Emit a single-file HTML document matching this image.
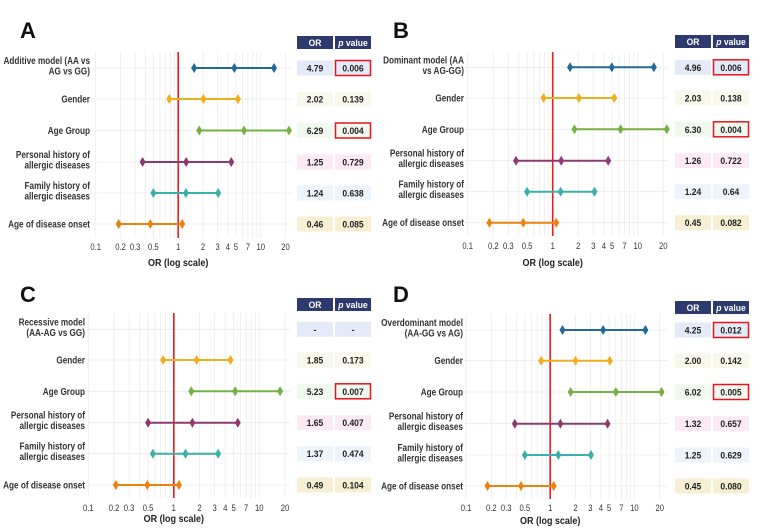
<!DOCTYPE html>
<html><head><meta charset="utf-8"><style>
html,body{margin:0;padding:0;background:#fff;}
svg{display:block;font-family:"Liberation Sans",sans-serif;}
</style></head><body>
<svg id="fig" width="757" height="531" viewBox="0 0 757 531" xmlns="http://www.w3.org/2000/svg"></svg>
<script>
// ---- data ----
const labelsA = [["Additive model (AA vs","AG vs GG)"],["Gender"],["Age Group"],["Personal history of","allergic diseases"],["Family history of","allergic diseases"],["Age of disease onset"]];
const labelsB = [["Dominant model (AA","vs AG-GG)"],["Gender"],["Age Group"],["Personal history of","allergic diseases"],["Family history of","allergic diseases"],["Age of disease onset"]];
const labelsC = [["Recessive model","(AA-AG vs GG)"],["Gender"],["Age Group"],["Personal history of","allergic diseases"],["Family history of","allergic diseases"],["Age of disease onset"]];
const labelsD = [["Overdominant model","(AA-GG vs AG)"],["Gender"],["Age Group"],["Personal history of","allergic diseases"],["Family history of","allergic diseases"],["Age of disease onset"]];

const orA = [4.79, 2.02, 6.29, 1.25, 1.24, 0.46];
const loA = [1.56, 0.78, 1.8, 0.37, 0.5, 0.19];
const hiA = [14.5, 5.3, 22, 4.4, 3.05, 1.12];
const orTextA = ["4.79","2.02","6.29","1.25","1.24","0.46"];
const pTextA = ["0.006","0.139","0.004","0.729","0.638","0.085"];
const sigA = [true,false,true,false,false,false];

const orB = [4.96, 2.03, 6.30, 1.26, 1.24, 0.45];
const loB = [1.6, 0.78, 1.8, 0.37, 0.5, 0.18];
const hiB = [15.5, 5.3, 22, 4.5, 3.1, 1.1];
const orTextB = ["4.96","2.03","6.30","1.26","1.24","0.45"];
const pTextB = ["0.006","0.138","0.004","0.722","0.64","0.082"];
const sigB = [true,false,true,false,false,false];

const orC = [null, 1.85, 5.23, 1.65, 1.37, 0.49];
const loC = [null, 0.75, 1.6, 0.5, 0.57, 0.21];
const hiC = [null, 4.6, 17.5, 5.6, 3.3, 1.15];
const orTextC = ["-","1.85","5.23","1.65","1.37","0.49"];
const pTextC = ["-","0.173","0.007","0.407","0.474","0.104"];
const sigC = [false,false,true,false,false,false];

const orD = [4.25, 2.00, 6.02, 1.32, 1.25, 0.45];
const loD = [1.4, 0.78, 1.75, 0.38, 0.5, 0.18];
const hiD = [13.5, 5.1, 21, 4.8, 3.05, 1.1];
const orTextD = ["4.25","2.00","6.02","1.32","1.25","0.45"];
const pTextD = ["0.012","0.142","0.005","0.657","0.629","0.080"];
const sigD = [true,false,true,false,false,false];

const tickValues = [0.1,0.2,0.3,0.5,1,2,3,4,5,7,10,20];
const tickLabels = ["0.1","0.2","0.3","0.5","1","2","3","4","5","7","10","20"];
const minorGrid = [0.1,0.2,0.3,0.4,0.5,0.6,0.7,0.8,0.9,1,2,3,4,5,6,7,8,9,10,20];

const colors = ["#23699a","#f0ae1c","#74b143","#8e3a72","#3ab0ab","#ea820e"];
const cellBg = ["#e5eaf8","#f8f9ec","#f1f8ee","#fbe9f4","#eef4fb","#f6efd4"];

const NS = "http://www.w3.org/2000/svg";
const svg = document.getElementById("fig");
function mk(tag, attrs, parent){
  const e = document.createElementNS(NS, tag);
  for (const k in attrs) e.setAttribute(k, attrs[k]);
  (parent||svg).appendChild(e);
  return e;
}

const panels = [
  {id:"a", letter:"A", lx:20, ly:38, x0:95.7, dec:82.5, plotL:90, plotR:292, rows:[68,99,130.5,162,193,224], top:52, bottom:238, tickY:250, titleY:266, labX:90, orX:297, pX:335, hdrY:36, labels:labelsA, or:orA, lo:loA, hi:hiA, orT:orTextA, pT:pTextA, sig:sigA},
  {id:"b", letter:"B", lx:393, ly:38, x0:467.7, dec:85, plotL:465, plotR:668, rows:[67.3,98,129.3,160.7,191.7,222.7], top:52, bottom:236, tickY:249, titleY:266, labX:464, orX:675, pX:713, hdrY:35, labels:labelsB, or:orB, lo:loB, hi:hiB, orT:orTextB, pT:pTextB, sig:sigB},
  {id:"c", letter:"C", lx:20, ly:302, x0:88.3, dec:85.5, plotL:86, plotR:290, rows:[329.3,360,391.3,422.7,453.7,485], top:313, bottom:498, tickY:511, titleY:522, labX:85, orX:297, pX:335, hdrY:298, labels:labelsC, or:orC, lo:loC, hi:hiC, orT:orTextC, pT:pTextC, sig:sigC},
  {id:"d", letter:"D", lx:393, ly:302, x0:466, dec:84.2, plotL:464, plotR:668, rows:[330,360.7,392,423.7,455,486], top:314, bottom:499, tickY:511, titleY:524, labX:463, orX:675, pX:713, hdrY:301, labels:labelsD, or:orD, lo:loD, hi:hiD, orT:orTextD, pT:pTextD, sig:sigD}
];

panels.forEach(p => {
  const g = mk("g", {});
  
  
  const xs = v => p.x0 + Math.log10(v / 0.1) * p.dec;

  const letter = mk("text", {x:p.lx, y:p.ly, "font-size":22, "font-weight":"bold", fill:"#111"}, g);
  letter.textContent = p.letter;
  
  

  minorGrid.forEach(v => {
    const l = mk("line", {x1:xs(v), x2:xs(v), y1:p.top, y2:p.bottom, stroke:"#ececec", "stroke-width":0.8}, g);
    
    
  });
  p.rows.forEach(y => {
    const l = mk("line", {x1:p.plotL, x2:p.plotR, y1:y, y2:y, stroke:"#ececec", "stroke-width":0.8}, g);
    
    
  });

  const ref = mk("line", {x1:xs(1), x2:xs(1), y1:p.top, y2:p.bottom, stroke:"#f01818", "stroke-width":1.6}, g);
  
  

  tickValues.forEach((v,i) => {
    const t = mk("text", {x:0, y:0, transform:`translate(${xs(v)},${p.tickY}) scale(0.85,1)`, "font-size":9, "text-anchor":"middle", fill:"#333"}, g);
    t.textContent = tickLabels[i];
    
    
  });
  const at = mk("text", {x:0, y:0, transform:`translate(${xs(1)},${p.titleY}) scale(0.9,1)`, "font-size":10, "font-weight":"bold", "text-anchor":"middle", fill:"#222"}, g);
  at.textContent = "OR (log scale)";
  
  

  [["OR", p.orX], ["p value", p.pX]].forEach((h,i) => {
    const r = mk("rect", {x:h[1], y:p.hdrY, width:36, height:13, fill:"#2c3a6e"}, g);
    
    
    const t = mk("text", {x:0, y:0, transform:`translate(${h[1]+18},${p.hdrY+10}) scale(0.9,1)`, "font-size":9.5, "font-weight":"bold", "text-anchor":"middle", fill:"#fff"}, g);
    if (i) {
      const s1 = mk("tspan", {"font-style":"italic"}, t); s1.textContent = "p";
      const s2 = mk("tspan", {}, t); s2.textContent = " value";
    } else t.textContent = "OR";
  });

  p.rows.forEach((y,i) => {
    const lines = p.labels[i];
    const lt = mk("text", {transform:`translate(${p.labX},0) scale(0.82,1)`, "font-size":10, "font-weight":"bold", "text-anchor":"end", fill:"#333"}, g);
    
    
    lines.forEach((ln,k) => {
      const ty = lines.length === 1 ? y + 3.5 : y - 4 + k * 10.5;
      const s = mk("tspan", {x:0, y:ty}, lt);
      s.textContent = ln;
    });
    if (p.or[i] !== null) {
      const line = mk("line", {x1:xs(p.lo[i]), x2:xs(p.hi[i]), y1:y, y2:y, stroke:colors[i], "stroke-width":2}, g);
      
      
      [p.lo[i], p.or[i], p.hi[i]].forEach((v,k) => {
        const cx = xs(v);
        const d = mk("polygon", {points:`${cx},${y-5} ${cx+3},${y} ${cx},${y+5} ${cx-3},${y}`, fill:colors[i]}, g);
        
        
      });
    }
    [[p.orX, p.orT[i], false], [p.pX, p.pT[i], p.sig[i]]].forEach((c,k) => {
      const r = mk("rect", {x:c[0], y:y-7.5, width:36, height:15, fill:cellBg[i]}, g);
      
      
      if (c[2]) {
        const b = mk("rect", {x:c[0]+0.5, y:y-7.5, width:35, height:15, fill:"none", stroke:"#e8141c", "stroke-width":1.5}, g);
        
        
      }
      const t = mk("text", {x:0, y:0, transform:`translate(${c[0]+18},${y+3.5}) scale(0.9,1)`, "font-size":9.5, "font-weight":"bold", "text-anchor":"middle", fill:"#222"}, g);
      t.textContent = c[1];
      
      
    });
  });
});
</script>
</body></html>
